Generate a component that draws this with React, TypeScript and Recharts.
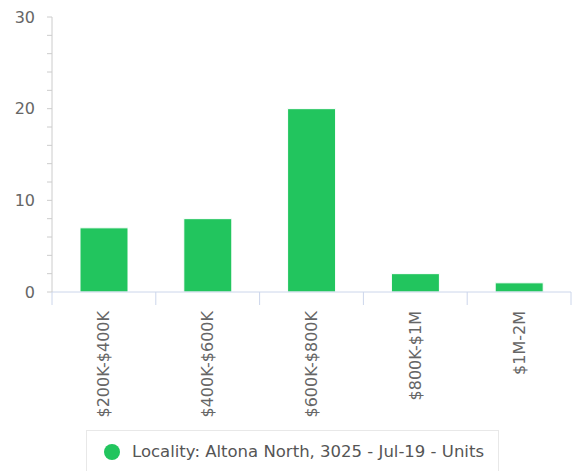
import { BarChart, Bar, XAxis, YAxis, Legend } from 'recharts';

const categories = ['$200K-$400K', '$400K-$600K', '$600K-$800K', '$800K-$1M', '$1M-2M'];
const units = [7, 8, 20, 2, 1];
const yTicks = [0, 2, 4, 6, 8, 10, 12, 14, 16, 18, 20, 22, 24, 26, 28, 30];
const seriesName = 'Locality: Altona North, 3025 - Jul-19 - Units';

const data = categories.map((name, i) => ({ name, units: units[i] }));

const W = 577;
const H = 480;
const MARGIN = { top: 17, right: 6, left: 0, bottom: 2 };
const Y_WIDTH = 52;
const BAND = (W - MARGIN.left - MARGIN.right - Y_WIDTH) / categories.length;
const GREEN = '#22C55E';
const FONT = '"DejaVu Sans", sans-serif';

function CategoryTick(props: any) {
  const { x, y, payload, index } = props;
  const left = x - BAND / 2;
  const right = x + BAND / 2;
  return (
    <g>
      <line x1={left} y1={y} x2={left} y2={y + 13} stroke="#ccd6eb" />
      {index === categories.length - 1 && (
        <line x1={right} y1={y} x2={right} y2={y + 13} stroke="#ccd6eb" />
      )}
      <text
        x={x}
        y={y + 19}
        dy="0.35em"
        textAnchor="end"
        transform={`rotate(-90, ${x}, ${y + 19})`}
        fill="#666"
        fontSize={16}
        fontFamily={FONT}
      >
        {payload.value}
      </text>
    </g>
  );
}

function LegendBox() {
  return (
    <div
      style={{
        marginLeft: 86,
        width: 413,
        height: 48,
        boxSizing: 'border-box',
        border: '1px solid #e8e8e8',
        display: 'flex',
        alignItems: 'flex-start',
        paddingTop: 11,
        paddingLeft: 17,
        fontFamily: FONT,
        fontSize: 16.5,
        lineHeight: '20px',
        color: '#555',
      }}
    >
      <span
        style={{
          width: 16,
          height: 16,
          marginTop: 2,
          borderRadius: '50%',
          background: GREEN,
          marginRight: 12,
          flexShrink: 0,
        }}
      />
      <span style={{ whiteSpace: 'nowrap' }}>{seriesName}</span>
    </div>
  );
}

export default function App() {
  return (
    <div style={{ position: 'absolute', left: 0, top: 0, width: W, height: 471, overflow: 'hidden' }}>
      <BarChart width={W} height={H} data={data} margin={MARGIN}>
        <XAxis
          dataKey="name"
          interval={0}
          height={138}
          tickLine={false}
          tickSize={0}
          tickMargin={0}
          axisLine={{ stroke: '#ccd6eb' }}
          tick={<CategoryTick />}
        />
        <YAxis
          width={Y_WIDTH}
          domain={[0, 30]}
          ticks={yTicks}
          interval={0}
          tickSize={5}
          tickMargin={12}
          axisLine={{ stroke: '#ccc' }}
          tickLine={{ stroke: '#ccc' }}
          tickFormatter={(v: number) => (v % 10 === 0 ? String(v) : '')}
          tick={{ fill: '#666', fontSize: 16, fontFamily: FONT }}
        />
        <Legend verticalAlign="bottom" align="left" content={<LegendBox />} />
        <Bar
          dataKey="units"
          name={seriesName}
          fill={GREEN}
          stroke="#fff"
          strokeWidth={1}
          barSize={48}
          isAnimationActive={false}
        />
      </BarChart>
    </div>
  );
}
